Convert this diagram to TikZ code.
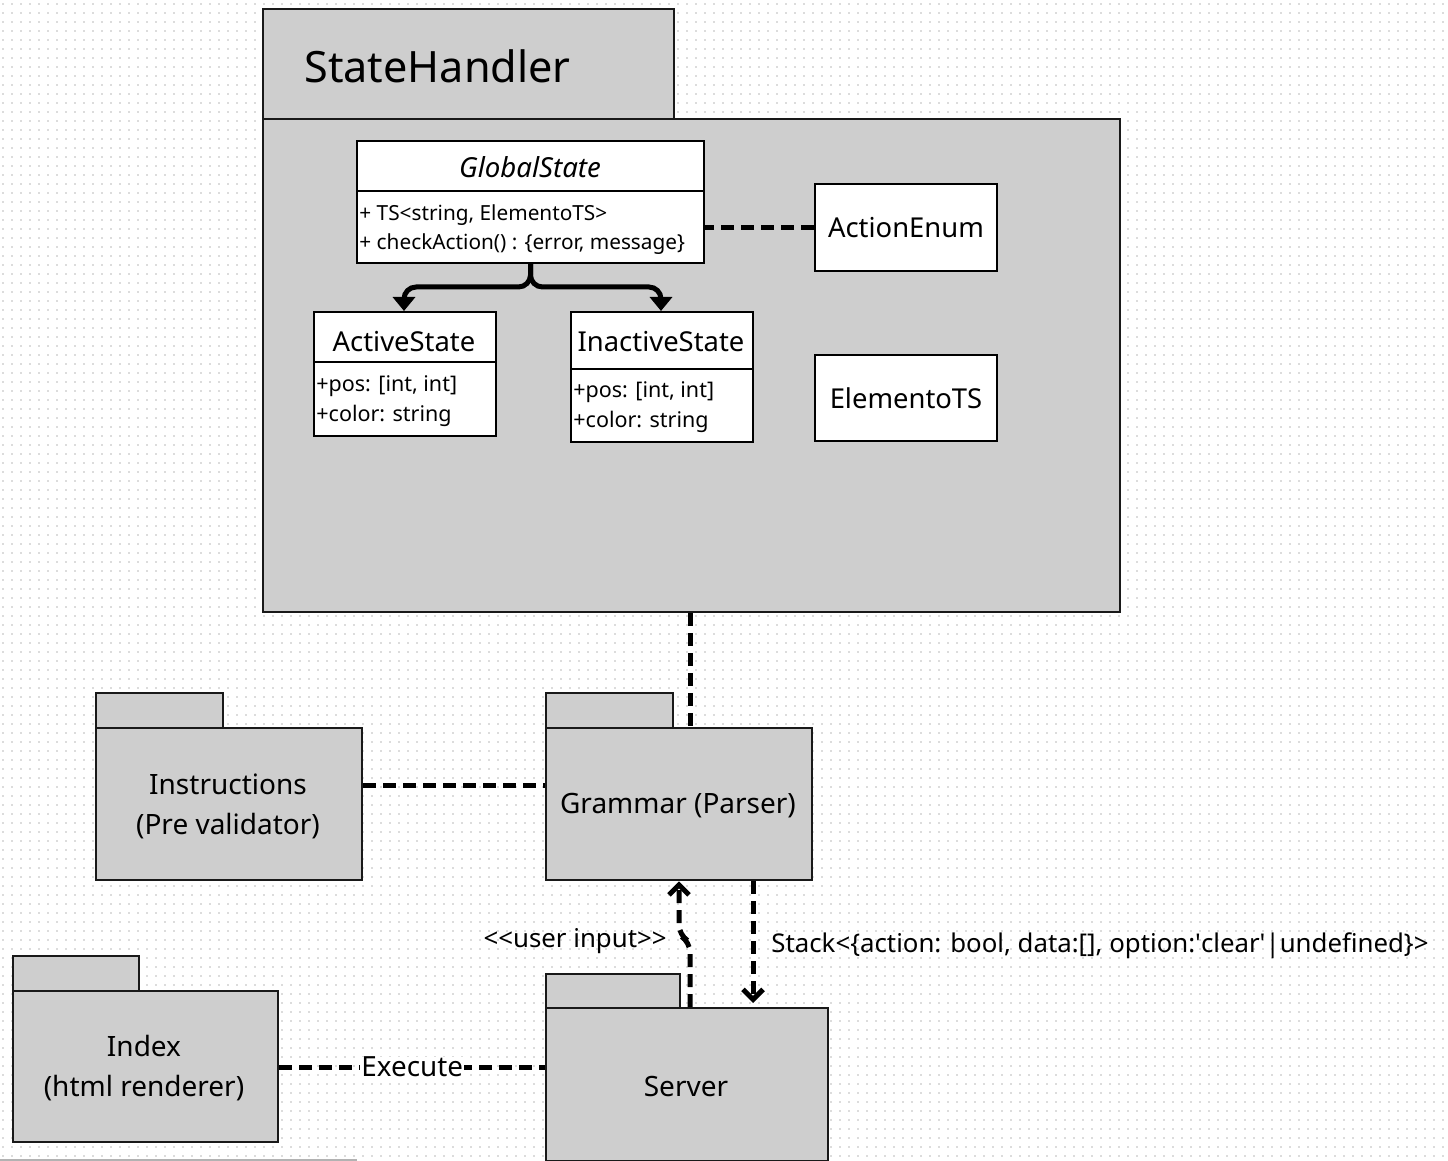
\documentclass[tikz,border=0pt]{standalone}
\usepackage{fontspec}
\setmainfont{Noto Sans}
\usetikzlibrary{arrows.meta}
\definecolor{pkgfill}{HTML}{CECECE}
\definecolor{gridc}{HTML}{DCDCDC}
\begin{document}
\begin{tikzpicture}[x=0.5pt,y=-0.5pt,
  sz/.style 2 args={minimum width=#1*0.5pt, minimum height=#2*0.5pt},
  pkg/.style={draw=black!90, fill=pkgfill, line width=1.2pt, inner sep=0pt, anchor=north west, rectangle},
  cls/.style={draw=black, fill=white, line width=1pt, inner sep=0pt, anchor=north west, rectangle},
  pkgtext/.style={font=\fontsize{14}{20}\selectfont, align=center, inner sep=0pt},
  clstitle/.style={font=\fontsize{13.7}{16}\selectfont, inner sep=0pt},
  attr/.style={font=\fontsize{10.75}{15}\selectfont, align=left, anchor=west, inner sep=0pt},
  dline/.style={line width=2.5pt, dash pattern=on 6.5pt off 3.5pt},
  inh/.style={line width=2.5pt, rounded corners=6pt, -{Triangle[length=7pt,width=11pt]}},
  barb/.style={-{Straight Barb[length=5pt,width=10pt]}},
  gridl/.style={gridc, line width=1pt, dash pattern=on 1pt off 3.5pt, dash phase=-1pt},
  lbl/.style={font=\fontsize{12.9}{15}\selectfont, inner sep=0pt}
]
\useasboundingbox (0,0) rectangle (1448,1161);
\fill[white] (0,0) rectangle (1448,1161);
\foreach \yy in {4,13,...,1161} \draw[gridl] (0,\yy) -- (1448,\yy);
\draw[gray!60, line width=0.8pt] (0,1160) -- (357,1160);

% StateHandler package
\node[pkg, sz={411}{110}] (sht) at (262,8) {};
\node[pkg, sz={857}{493}] (shb) at (262,118) {};
\node[anchor=west, inner sep=0pt, font=\fontsize{21.6}{24}\selectfont] (shtitle) at (304,66) {StateHandler};

% GlobalState
\node[cls, sz={347}{122}] (gs) at (356,140) {};
\draw[line width=1pt] (gs.west |- 0,191) -- (gs.east |- 0,191);
\node[clstitle, font=\fontsize{13.8}{16}\itshape\selectfont] (gst) at (530,167) {GlobalState};
\node[attr, font=\fontsize{10.4}{14.5}\selectfont] (gsa) at (359,230) {+ TS<string, ElementoTS>\\+ checkAction() : \{error, message\}};

% ActionEnum, ElementoTS
\node[cls, sz={182}{87}, font=\fontsize{13.7}{16}\selectfont] (ae) at (814,183) {ActionEnum};
\node[cls, sz={182}{86}, font=\fontsize{13.7}{16}\selectfont] (et) at (814,354) {ElementoTS};

% ActiveState
\node[cls, sz={182}{124}] (as) at (313,311) {};
\draw[line width=1pt] (as.west |- 0,362) -- (as.east |- 0,362);
\node[clstitle] (ast) at (404,342) {ActiveState};
\node[attr] (asa) at (316,401) {+pos: [int, int]\\+color: string};

% InactiveState
\node[cls, sz={182}{130}] (is) at (570,311) {};
\draw[line width=1pt] (is.west |- 0,369) -- (is.east |- 0,369);
\node[clstitle] (ist) at (661,342) {InactiveState};
\node[attr] (isa) at (573,407) {+pos: [int, int]\\+color: string};

% inheritance connectors
\coordinate (split) at (0,287);
\draw[inh] (gs.south) -- (gs.south |- split) -| (ast.north |- as.north);
\draw[inh] (gs.south) -- (gs.south |- split) -| (ist.north |- is.north);
\draw[dline] (ae.west) -- (ae.west -| gs.east);

% Instructions
\node[pkg, sz={127}{35}] (it) at (95,692) {};
\node[pkg, sz={266}{152}] (ib) at (95,727) {};
\node[pkgtext] (itx) at (228,806) {Instructions\\(Pre validator)};

% Grammar
\node[pkg, sz={127}{35}] (gt) at (545,692) {};
\node[pkg, sz={266}{152}] (gb) at (545,727) {};
\node[pkgtext] (gtx) at (678,806) {Grammar (Parser)};

% Index
\node[pkg, sz={126}{35}] (xt) at (12,955) {};
\node[pkg, sz={265}{151}] (xb) at (12,990) {};
\node[pkgtext] (xtx) at (144,1068) {Index\\(html renderer)};

% Server
\node[pkg, sz={134}{34}] (st) at (545,973) {};
\node[pkg, sz={282}{153}] (sb) at (545,1007) {};
\node[pkgtext] (stx) at (686,1086) {Server};

% connectors
\coordinate (c1) at (690,0);
\draw[dline] (c1 |- shb.south) -- (c1 |- gb.north);
\coordinate (c2) at (0,785);
\draw[dline] (ib.east |- c2) -- (gb.west |- c2);
\coordinate (c3) at (0,1067);
\draw[dline] (xb.east |- c3) -- node[lbl, fill=white, inner xsep=0.5pt, font=\fontsize{13.9}{16}\selectfont] (exl) {Execute} (sb.west |- c3);

\coordinate (u1) at (690,0);
\coordinate (u2) at (679,0);
\draw[dline, barb, rounded corners=5pt] (u1 |- sb.north) -- (u1 |- 0,942) -- (u2 |- 0,935) -- (u2 |- gb.south);
\node[lbl, anchor=east] (uil) at (667,941) {<{}<user input>{}>};

\coordinate (s1) at (753,0);
\draw[dline, barb] (s1 |- gb.south) -- ([yshift=2pt]s1 |- sb.north);
\node[lbl, anchor=west] (stl) at (771,946) {Stack<\{action: bool, data:[], option:\textquotesingle clear\textquotesingle|undefined\}>};
\end{tikzpicture}
\end{document}
